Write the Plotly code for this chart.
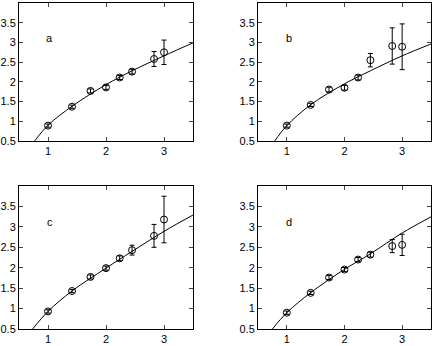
import plotly.graph_objects as go
from plotly.subplots import make_subplots

# x positions of the measurements (sqrt of 1,2,3,4,5,6,8,9)
x_pts = [1.0, 1.414, 1.732, 2.0, 2.236, 2.449, 2.828, 3.0]

# measured values and error sizes per panel
y_a = [0.89, 1.37, 1.77, 1.86, 2.11, 2.26, 2.58, 2.75]
err_a = [0.04, 0.04, 0.05, 0.05, 0.05, 0.06, 0.19, 0.31]
y_b = [0.89, 1.415, 1.805, 1.85, 2.11, 2.55, 2.91, 2.89]
err_b = [0.04, 0.04, 0.06, 0.06, 0.06, 0.17, 0.46, 0.58]
y_c = [0.93, 1.43, 1.775, 1.99, 2.23, 2.43, 2.78, 3.18]
err_c = [0.04, 0.04, 0.05, 0.05, 0.06, 0.12, 0.28, 0.57]
y_d = [0.90, 1.385, 1.76, 1.955, 2.20, 2.32, 2.53, 2.56]
err_d = [0.04, 0.04, 0.05, 0.05, 0.05, 0.06, 0.16, 0.26]

# fitted curve
fit_x_a = [0.77, 1.0, 1.414, 2.0, 2.449, 3.0, 3.5]
fit_y_a = [0.5, 0.9, 1.38, 1.93, 2.28, 2.66, 2.99]
fit_x_b = [0.79, 1.0, 1.414, 2.0, 2.449, 3.0, 3.5]
fit_y_b = [0.5, 0.89, 1.42, 1.95, 2.28, 2.66, 2.96]
fit_x_c = [0.735, 1.0, 1.414, 2.0, 2.449, 3.0, 3.5]
fit_y_c = [0.5, 0.93, 1.43, 1.99, 2.40, 2.89, 3.29]
fit_x_d = [0.75, 1.0, 1.414, 2.0, 2.449, 3.0, 3.5]
fit_y_d = [0.5, 0.9, 1.39, 1.96, 2.34, 2.85, 3.245]

panels = [
    ("a", y_a, err_a, fit_x_a, fit_y_a, 1, 1),
    ("b", y_b, err_b, fit_x_b, fit_y_b, 1, 2),
    ("c", y_c, err_c, fit_x_c, fit_y_c, 2, 1),
    ("d", y_d, err_d, fit_x_d, fit_y_d, 2, 2),
]

fig = make_subplots(rows=2, cols=2)

for label, ys, errs, fx, fy, r, c in panels:
    fig.add_trace(go.Scatter(x=fx, y=fy, mode="lines", line_shape="spline",
                             line=dict(color="black", width=1), showlegend=False),
                  row=r, col=c)
    fig.add_trace(go.Scatter(x=x_pts, y=ys, mode="markers",
                             marker=dict(symbol="circle-open", size=7, color="black",
                                         line=dict(width=1)),
                             error_y=dict(type="data", array=errs, color="black",
                                          thickness=1, width=2.5),
                             showlegend=False),
                  row=r, col=c)
    fig.add_annotation(x=1.03, y=3.12, text=label, showarrow=False,
                       font=dict(size=11, color="black"), row=r, col=c)

fig.update_xaxes(range=[0.5, 3.5], tickvals=[1, 2, 3], ticks="inside", ticklen=4,
                 showline=True, linecolor="black", linewidth=1, mirror="ticks",
                 showgrid=False, zeroline=False, automargin=False)
fig.update_yaxes(range=[0.5, 4.0], tickvals=[0.5, 1, 1.5, 2, 2.5, 3, 3.5],
                 ticktext=["0.5", "1", "1.5", "2", "2.5", "3", "3.5"],
                 ticks="inside", ticklen=4,
                 showline=True, linecolor="black", linewidth=1, mirror="ticks",
                 showgrid=False, zeroline=False, automargin=False)

fig.update_layout(
    width=436, height=346,
    margin=dict(l=0, r=0, t=0, b=0),
    plot_bgcolor="white", paper_bgcolor="white",
    font=dict(family="Liberation Sans, Arial, sans-serif", size=11, color="black"),
    xaxis=dict(domain=[0.0436, 0.4427]),
    xaxis2=dict(domain=[0.5917, 0.9885]),
    xaxis3=dict(domain=[0.0436, 0.4427]),
    xaxis4=dict(domain=[0.5917, 0.9885]),
    yaxis=dict(domain=[0.5925, 0.9913]),
    yaxis2=dict(domain=[0.5925, 0.9913]),
    yaxis3=dict(domain=[0.0491, 0.4624]),
    yaxis4=dict(domain=[0.0491, 0.4624]),
)

# drop the browser's default page margin so the figure sits at the corner
fig.write_html("out.html", config={"displayModeBar": False},
               post_script="document.body.style.margin='0';document.body.style.overflow='hidden';")
